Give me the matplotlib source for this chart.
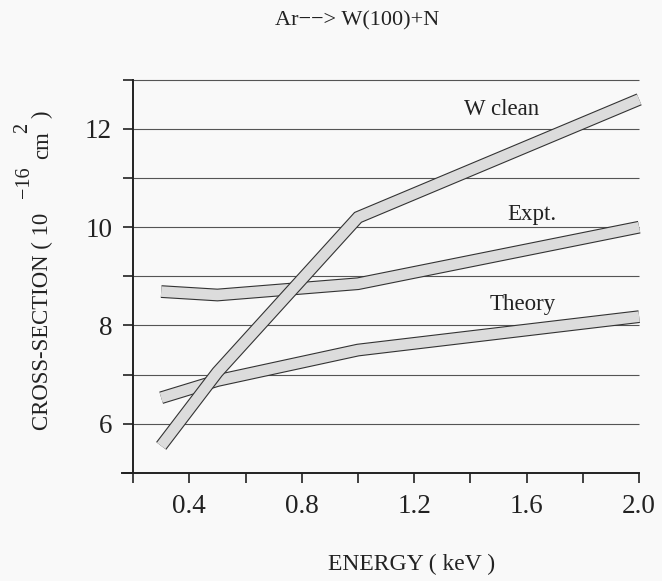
"""
Cross-section vs energy for Ar --> W(100)+N, drawn as thick outlined bands.
"""

import matplotlib
matplotlib.use("Agg")
import matplotlib.pyplot as plt
import matplotlib.patheffects as pe


# ─────────────────────────────────────────────
# Data
# ─────────────────────────────────────────────

energy = [0.3, 0.5, 1.0, 2.0]
w_clean = [5.55, 7.05, 10.2, 12.6]
expt = [8.69, 8.62, 8.85, 10.0]
theory = [6.53, 6.88, 7.5, 8.18]

x_ticks = [0.2, 0.4, 0.6, 0.8, 1.0, 1.2, 1.4, 1.6, 1.8, 2.0]
x_tick_labels = ["", "0.4", "", "0.8", "", "1.2", "", "1.6", "", "2.0"]
y_ticks = [5, 6, 7, 8, 9, 10, 11, 12, 13]
y_tick_labels = ["", "6", "", "8", "", "10", "", "12", ""]
grid_levels = [6, 7, 8, 9, 10, 11, 12, 13]


# ─────────────────────────────────────────────
# Style
# ─────────────────────────────────────────────

plt.rcParams["font.family"] = ["Liberation Serif", "DejaVu Serif"]

BG = "#f9f9f9"
INK = "#222222"
BAND_FILL = "#dcdcdc"
BAND_EDGE = "#333333"


def draw_band(ax, x, y):
    line, = ax.plot(x, y, color=BAND_FILL, lw=7.6,
                    solid_capstyle="butt", solid_joinstyle="miter", zorder=3)
    line.set_path_effects([
        pe.Stroke(linewidth=9.2, foreground=BAND_EDGE,
                  capstyle="butt", joinstyle="miter"),
        pe.Normal(),
    ])


def fig_text(fig, px, py, s, **kw):
    # place text by pixel position (from top-left), like the scanned original
    fig.text(px / 662, 1 - py / 581, s, ha="center", va="center", color=INK, **kw)


# ─────────────────────────────────────────────
# Figure
# ─────────────────────────────────────────────

fig = plt.figure(figsize=(6.62, 5.81), dpi=100, facecolor=BG)
ax = fig.add_axes([0.184, 0.186, 0.790, 0.681])
ax.set_facecolor(BG)

ax.set_xlim(0.16, 2.02)
ax.set_ylim(5, 13.05)

ax.hlines(grid_levels, 0.2, 2.0, color="#555555", lw=0.8, zorder=1)

draw_band(ax, energy, theory)
draw_band(ax, energy, expt)
draw_band(ax, energy, w_clean)

ax.text(1.51, 12.39, "W clean", ha="center", va="center", fontsize=16.5, color=INK)
ax.text(1.62, 10.25, "Expt.", ha="center", va="center", fontsize=16.5, color=INK)
ax.text(1.585, 8.42, "Theory", ha="center", va="center", fontsize=16.5, color=INK)

for side in ["top", "right"]:
    ax.spines[side].set_visible(False)
ax.spines["left"].set_position(("data", 0.2))
ax.spines["left"].set_bounds(5, 13)
ax.spines["bottom"].set_bounds(0.16, 2.0)
for side in ["left", "bottom"]:
    ax.spines[side].set_linewidth(1.4)
    ax.spines[side].set_color(INK)

ax.set_xticks(x_ticks)
ax.set_xticklabels(x_tick_labels)
ax.set_yticks(y_ticks)
ax.set_yticklabels(y_tick_labels)
ax.tick_params(axis="x", direction="out", length=7, width=1.2, pad=8,
               labelsize=19.5, colors=INK)
ax.tick_params(axis="y", direction="out", length=7, width=1.2, pad=8,
               labelsize=19.5, colors=INK)

fig_text(fig, 357, 21, "Ar\u2212\u2212> W(100)+N", fontsize=16)
fig_text(fig, 412, 564, "ENERGY ( keV )", fontsize=17)

# y label built from pieces so the exponents sit like in the original
fig_text(fig, 42, 321, "CROSS-SECTION ( 10", rotation=90, fontsize=16.4)
fig_text(fig, 24, 182, "\u221216", rotation=90, fontsize=14.5)
fig_text(fig, 43, 145, "cm", rotation=90, fontsize=16.4)
fig_text(fig, 23, 128, "2", rotation=90, fontsize=14.5)
fig_text(fig, 42, 114, ")", rotation=90, fontsize=16.4)

fig.savefig("out.png", dpi=100, facecolor=BG)
